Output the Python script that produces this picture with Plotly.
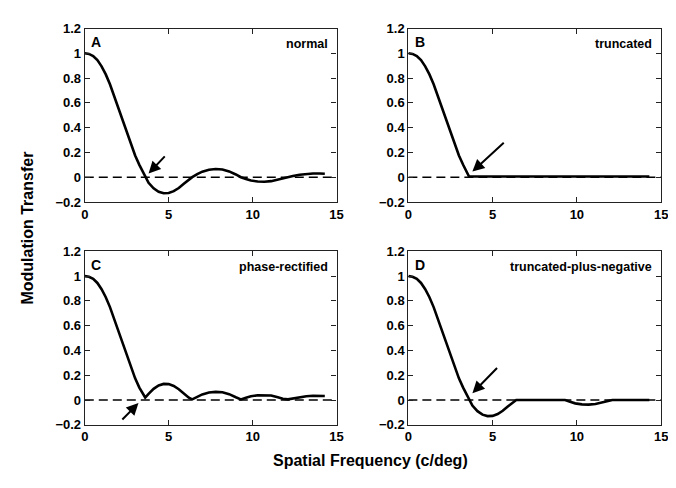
import plotly.graph_objects as go

# ---------------- data ----------------
freq = [0, 0.25, 0.5, 0.75, 1.0, 1.25, 1.5, 1.75, 2.0, 2.25, 2.5, 2.75, 3.0, 3.25, 3.5, 3.6,
        3.8, 4.1, 4.4, 4.7, 5.0, 5.3, 5.6, 5.9, 6.2, 6.4,
        6.7, 7.0, 7.4, 7.8, 8.2, 8.6, 9.0, 9.3,
        9.6, 9.9, 10.3, 10.7, 11.1, 11.5, 11.8, 12.1,
        12.4, 12.8, 13.2, 13.6, 14.0, 14.3]

mtf_normal = [1.0, 0.995, 0.978, 0.945, 0.895, 0.83, 0.75, 0.655, 0.555, 0.455, 0.355, 0.26, 0.175, 0.10, 0.03, 0.005,
              -0.045, -0.09, -0.118, -0.13, -0.128, -0.113, -0.087, -0.053, -0.018, 0.0,
              0.025, 0.045, 0.06, 0.066, 0.062, 0.047, 0.022, 0.0,
              -0.015, -0.027, -0.035, -0.037, -0.032, -0.018, -0.007, 0.0,
              0.01, 0.02, 0.027, 0.03, 0.03, 0.028]

freq_trunc = [0, 0.25, 0.5, 0.75, 1.0, 1.25, 1.5, 1.75, 2.0, 2.25, 2.5, 2.75, 3.0, 3.25, 3.5, 3.6, 14.3]
mtf_trunc = [1.0, 0.995, 0.978, 0.945, 0.895, 0.83, 0.75, 0.655, 0.555, 0.455, 0.355, 0.26, 0.175, 0.10, 0.03, 0.005, 0.005]

mtf_rectified = [1.0, 0.995, 0.978, 0.945, 0.895, 0.83, 0.75, 0.655, 0.555, 0.455, 0.355, 0.26, 0.175, 0.10, 0.04, 0.02,
                 0.05, 0.09, 0.118, 0.13, 0.128, 0.113, 0.087, 0.053, 0.018, 0.005,
                 0.025, 0.045, 0.06, 0.066, 0.062, 0.047, 0.022, 0.005,
                 0.018, 0.03, 0.038, 0.04, 0.036, 0.022, 0.01, 0.005,
                 0.012, 0.022, 0.03, 0.034, 0.034, 0.032]

mtf_trunc_neg = [1.0, 0.995, 0.978, 0.945, 0.895, 0.83, 0.75, 0.655, 0.555, 0.455, 0.355, 0.26, 0.175, 0.10, 0.03, 0.005,
                 -0.045, -0.09, -0.118, -0.13, -0.128, -0.113, -0.087, -0.053, -0.018, 0.0,
                 0.0, 0.0, 0.0, 0.0, 0.0, 0.0, 0.0, 0.0,
                 -0.015, -0.027, -0.035, -0.037, -0.032, -0.018, -0.007, 0.0,
                 0.0, 0.0, 0.0, 0.0, 0.0, 0.0]

panel_letters = ["A", "B", "C", "D"]
panel_names = ["normal", "truncated", "phase-rectified", "truncated-plus-negative"]
panel_x = [freq, freq_trunc, freq, freq]
panel_y = [mtf_normal, mtf_trunc, mtf_rectified, mtf_trunc_neg]

# arrows: (tail_x, tail_y, head_x, head_y)
arrows = [(4.85, 0.18, 3.8, 0.03),
          (5.75, 0.29, 3.8, 0.045),
          (2.15, -0.17, 3.2, -0.025),
          (5.35, 0.27, 3.8, 0.055)]

x_ticks = [0, 5, 10, 15]
y_ticks = [-0.2, 0, 0.2, 0.4, 0.6, 0.8, 1, 1.2]

# ---------------- layout ----------------
OFF = 8  # page body margin (top/left)
W, H = 676 - OFF, 488 - OFF


def px_x(p):
    return (p - OFF) / W


def px_y(p):
    return 1 - (p - OFF) / H


xdoms = [[px_x(82), px_x(338)], [px_x(411), px_x(668)]]
ydoms = [[px_y(201), px_y(22)], [px_y(431), px_y(252)]]

FONT = "Liberation Sans, Arial, Helvetica, sans-serif"
fig = go.Figure()
layout = dict(width=W, height=H, margin=dict(l=0, r=0, t=0, b=0),
              paper_bgcolor="white", plot_bgcolor="white", showlegend=False,
              font=dict(family=FONT, color="black"))

annotations = []
for i in range(4):
    r, c = divmod(i, 2)
    xa = "x" if i == 0 else f"x{i+1}"
    ya = "y" if i == 0 else f"y{i+1}"
    xkey = "xaxis" if i == 0 else f"xaxis{i+1}"
    ykey = "yaxis" if i == 0 else f"yaxis{i+1}"
    common = dict(showgrid=False, zeroline=False, showline=True, linecolor="#222",
                  linewidth=1.2, mirror="ticks", ticks="inside", ticklen=5,
                  tickcolor="#222", tickwidth=1,
                  tickfont=dict(family=FONT, size=13, color="black", weight="bold"))
    layout[xkey] = dict(domain=xdoms[c], anchor=ya, range=[0, 15], tickvals=x_ticks, **common)
    layout[ykey] = dict(domain=ydoms[r], anchor=xa, range=[-0.2, 1.2], tickvals=y_ticks, **common)

    # dashed zero line
    fig.add_trace(go.Scatter(x=[0, 15], y=[0, 0], mode="lines", xaxis=xa, yaxis=ya,
                             line=dict(color="black", width=1.6, dash="9px,5px"),
                             hoverinfo="skip"))
    # curve
    fig.add_trace(go.Scatter(x=panel_x[i], y=panel_y[i], mode="lines", xaxis=xa, yaxis=ya,
                             line=dict(color="black", width=2.6), hoverinfo="skip"))

    annotations.append(dict(x=0.25, y=1.17, xref=xa, yref=ya, text=f"<b>{panel_letters[i]}</b>",
                            showarrow=False, xanchor="left", yanchor="top",
                            font=dict(size=14, family=FONT, color="black")))
    annotations.append(dict(x=14.6, y=1.15, xref=xa, yref=ya, text=f"<b>{panel_names[i]}</b>",
                            showarrow=False, xanchor="right", yanchor="top",
                            font=dict(size=12.5, family=FONT, color="black")))
    tx, ty, hx, hy = arrows[i]
    annotations.append(dict(x=hx, y=hy, ax=tx, ay=ty, xref=xa, yref=ya, axref=xa, ayref=ya,
                            text="", showarrow=True, arrowhead=2, arrowsize=1.2,
                            arrowwidth=2, arrowcolor="black"))

annotations.append(dict(x=px_x(13), y=px_y(228), xref="paper", yref="paper",
                        text="<b>Modulation Transfer</b>", textangle=-90, showarrow=False,
                        font=dict(size=16, family=FONT, color="black")))
annotations.append(dict(x=px_x(373), y=px_y(479), xref="paper", yref="paper",
                        text="<b>Spatial Frequency (c/deg)</b>", showarrow=False,
                        font=dict(size=16, family=FONT, color="black")))
layout["annotations"] = annotations
fig.update_layout(**layout)
fig.write_html("out.html")
